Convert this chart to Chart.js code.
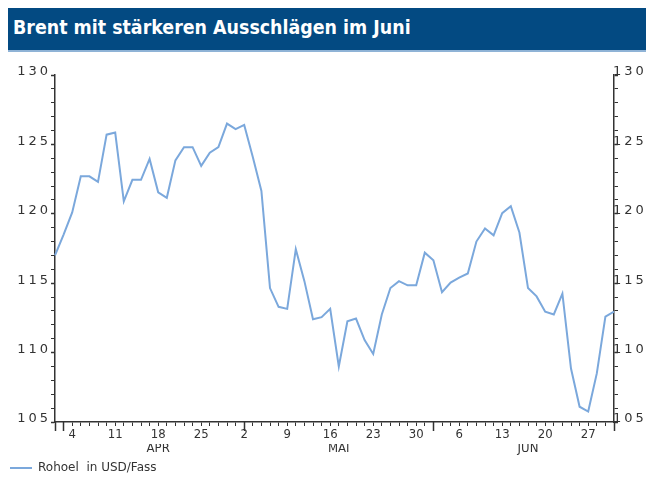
<!DOCTYPE html>
<html>
<head>
<meta charset="utf-8">
<script src="https://cdn.jsdelivr.net/npm/chart.js@4.4.1/dist/chart.umd.min.js"></script>
<style>
  html, body { margin: 0; padding: 0; background: #fff; }
  #wrap { position: relative; width: 646px; height: 477px; }
  #title {
    position: absolute; left: 8px; top: 8px; width: 638px; height: 44px;
    box-sizing: border-box; padding-left: 5px;
    background: #034a82; border-bottom: 2px solid #8fb3d6;
    color: #fff; font: bold 19.4px 'DejaVu Sans Condensed', sans-serif; line-height: 40px;
  }
  canvas { position: absolute; left: 0; top: 0; }
</style>
</head>
<body>
<div id="wrap">
  <canvas id="brentChart" width="646" height="477"></canvas>
  <div id="title">Brent mit stärkeren Ausschlägen im Juni</div>
</div>
<script>
// Handelstage (31. Maerz bis 30. Juni)
const marDays = [31];
const aprDays = [1, 4, 5, 6, 7, 8, 11, 12, 13, 14, 15, 18, 19, 20, 21, 22, 25, 26, 27, 28, 29];
const mayDays = [2, 3, 4, 5, 6, 9, 10, 11, 12, 13, 16, 17, 18, 19, 20, 23, 24, 25, 26, 27, 30, 31];
const junDays = [1, 2, 3, 6, 7, 8, 9, 10, 13, 14, 15, 16, 17, 20, 21, 22, 23, 24, 27, 28, 29, 30];
const monthNames = ['APR', 'MAI', 'JUN'];

// Rohoel in USD/Fass
const brent = [
  117.0,
  118.5, 120.1, 122.7, 122.7, 122.3, 125.7, 125.85, 120.9, 122.45, 122.45,
  123.95, 121.55, 121.15, 123.85, 124.8, 124.8, 123.45, 124.4, 124.8, 126.5, 126.1,
  126.4, 124.1, 121.65, 114.65, 113.3, 113.15, 117.45, 115.15, 112.4, 112.55,
  113.15, 109.0, 112.25, 112.45, 110.9, 109.9, 112.75, 114.65, 115.15, 114.85, 114.85, 117.2,
  116.65, 114.35, 115.05, 115.4, 115.7, 118.0, 118.95, 118.45, 120.05, 120.55,
  118.65, 114.65, 114.05, 112.95, 112.75, 114.25, 108.85, 106.1, 105.75, 108.5, 112.6, 112.95
];

const yMin = 105, yMax = 130;

const months = [[2, marDays], [3, aprDays], [4, mayDays], [5, junDays]];
const labels = [];
const mondays = new Set();
const monthStarts = new Set();
const monthLabels = [];
months.forEach(function (m) {
  const first = labels.length;
  m[1].forEach(function (d) {
    if (new Date(2011, m[0], d).getDay() === 1) mondays.add(labels.length);
    labels.push(String(d));
    monthLabels.push('');
  });
  if (m[0] > 2) {
    monthStarts.add(first);
    monthLabels[first + Math.ceil(m[1].length / 2)] = monthNames[m[0] - 3];
  }
});
monthStarts.add(0);
monthStarts.add(labels.length - 1);

const axisColor = '#333';

// Ziffern der Y-Achsen gesperrt wie im Original (y-Ticks liegen auf z 1)
const spacedTicks = {
  id: 'spacedTicks',
  afterDatasetsDraw(chart) { chart.ctx.letterSpacing = '3px'; },
  afterDraw(chart) { chart.ctx.letterSpacing = '0px'; }
};

function yAxis(pos) {
  return {
    type: 'linear',
    position: pos,
    min: yMin,
    max: yMax,
    afterFit: function (s) { s.width = pos === 'left' ? 49 : 32; },
    border: { color: axisColor, width: 1.5 },
    grid: {
      drawOnChartArea: false,
      tickLength: 4,
      tickColor: axisColor,
      tickWidth: function (c) { return c.tick && c.tick.value % 5 === 0 ? 1.5 : 1; }
    },
    ticks: {
      z: 1,
      stepSize: 1,
      autoSkip: false,
      padding: pos === 'left' ? 0 : -5,
      labelOffset: -3,
      color: axisColor,
      font: { family: 'DejaVu Sans', size: 13 },
      callback: function (v) { return v % 5 === 0 ? String(v) : ''; }
    }
  };
}

new Chart(document.getElementById('brentChart'), {
  type: 'line',
  data: {
    labels: labels,
    datasets: [{
      label: 'Rohoel  in USD/Fass',
      data: brent,
      borderColor: '#7ba8dc',
      backgroundColor: '#7ba8dc',
      borderWidth: 2,
      pointRadius: 0,
      tension: 0,
      xAxisID: 'x',
      yAxisID: 'y'
    }]
  },
  options: {
    responsive: false,
    animation: false,
    layout: { padding: { top: 75, left: 6, right: 0, bottom: -7 } },
    plugins: {
      title: { display: false },
      tooltip: { enabled: false },
      legend: {
        position: 'bottom',
        align: 'start',
        labels: {
          usePointStyle: true,
          pointStyle: 'line',
          pointStyleWidth: 22,
          padding: 4,
          color: axisColor,
          font: { family: 'DejaVu Sans', size: 12 }
        }
      }
    },
    scales: {
      xMajor: {
        type: 'category',
        position: 'bottom',
        weight: 0,
        afterFit: function (s) { s.height = 0; },
        border: { display: false },
        grid: {
          drawOnChartArea: false,
          tickLength: 9,
          tickWidth: 1.5,
          tickColor: function (c) { return monthStarts.has(c.index) ? axisColor : 'rgba(0,0,0,0)'; }
        },
        ticks: { display: false, autoSkip: false }
      },
      x: {
        type: 'category',
        position: 'bottom',
        weight: 1,
        afterFit: function (s) { s.height = 22; },
        border: { color: axisColor, width: 1.5 },
        grid: { drawOnChartArea: false, tickLength: 4, tickColor: axisColor },
        ticks: {
          autoSkip: false,
          maxRotation: 0,
          padding: 1,
          color: axisColor,
          font: { family: 'DejaVu Sans Condensed', size: 13 },
          callback: function (v, i) { return mondays.has(i) ? labels[i] : ''; }
        }
      },
      xMonth: {
        type: 'category',
        position: 'bottom',
        weight: 2,
        labels: monthLabels,
        afterFit: function (s) { s.height = 14; },
        border: { display: false },
        grid: { display: false, drawTicks: false, tickLength: 0 },
        ticks: {
          autoSkip: false,
          maxRotation: 0,
          padding: -3,
          color: axisColor,
          font: { family: 'DejaVu Sans Condensed', size: 13 }
        }
      },
      y: yAxis('left'),
      yRight: yAxis('right')
    }
  },
  plugins: [spacedTicks]
});
</script>
</body>
</html>
